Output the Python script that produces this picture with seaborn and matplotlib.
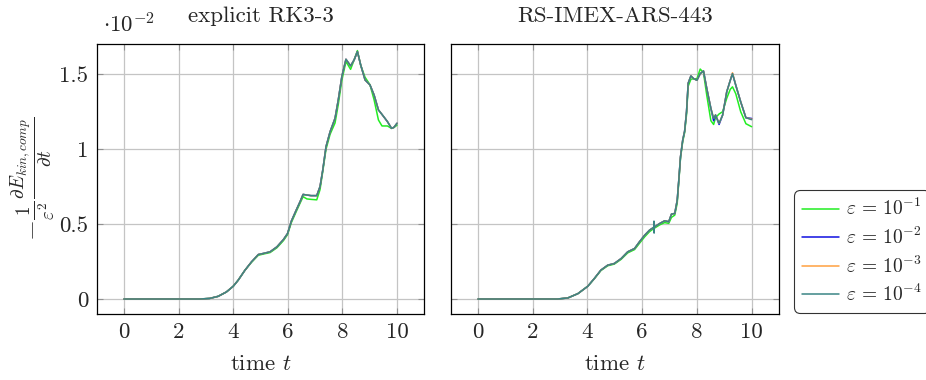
import matplotlib
matplotlib.use("Agg")
import matplotlib.pyplot as plt
import seaborn as sns
import pandas as pd
from matplotlib.lines import Line2D

# ---------------- data (values in units of 1e-2) ----------------
eps_labels = [r"$\varepsilon \,=\, 10^{-1}$", r"$\varepsilon \,=\, 10^{-2}$",
              r"$\varepsilon \,=\, 10^{-3}$", r"$\varepsilon \,=\, 10^{-4}$"]
colors = ["#22ee22", "#1010e0", "#ffa040", "#3a8585"]

titles = ["explicit RK3-3", "RS-IMEX-ARS-443"]
x_ticks = [0, 2, 4, 6, 8, 10]
y_ticks = [0, 0.5, 1, 1.5]
y_tick_labels = ["0", "0.5", "1", "1.5"]

# explicit RK3-3
t_rk = [0, 1, 2, 2.77, 3.14, 3.45, 3.75, 4.0, 4.18, 4.43, 4.67, 4.92, 5.10, 5.35,
        5.60, 5.84, 5.99, 6.13, 6.30, 6.45, 6.56, 6.70, 6.85, 7.06, 7.18, 7.28,
        7.40, 7.55, 7.73, 7.85, 7.98, 8.13, 8.30, 8.43, 8.55, 8.67, 8.83, 9.01,
        9.16, 9.32, 9.45, 9.65, 9.80, 9.89, 10.0]
rk_e1 = [0, 0, 0, 0, 0.004, 0.018, 0.047, 0.085, 0.125, 0.192, 0.245, 0.292, 0.300,
         0.310, 0.342, 0.390, 0.430, 0.510, 0.580, 0.640, 0.683, 0.668, 0.665, 0.662,
         0.730, 0.850, 1.000, 1.100, 1.175, 1.300, 1.460, 1.585, 1.533, 1.596, 1.658,
         1.560, 1.480, 1.430, 1.330, 1.195, 1.155, 1.155, 1.139, 1.145, 1.160]
rk_e2 = [0, 0, 0, 0, 0.004, 0.018, 0.047, 0.085, 0.125, 0.192, 0.248, 0.297, 0.304,
         0.315, 0.348, 0.397, 0.437, 0.520, 0.590, 0.650, 0.698, 0.694, 0.690, 0.690,
         0.750, 0.860, 1.017, 1.117, 1.206, 1.330, 1.485, 1.600, 1.556, 1.596, 1.651,
         1.562, 1.462, 1.429, 1.362, 1.262, 1.232, 1.184, 1.139, 1.146, 1.173]
rk_e3 = [0, 0, 0, 0, 0.004, 0.018, 0.047, 0.085, 0.125, 0.192, 0.248, 0.297, 0.304,
         0.315, 0.348, 0.397, 0.437, 0.520, 0.590, 0.650, 0.698, 0.694, 0.690, 0.690,
         0.750, 0.860, 1.017, 1.117, 1.206, 1.330, 1.485, 1.600, 1.556, 1.596, 1.651,
         1.562, 1.462, 1.429, 1.362, 1.262, 1.232, 1.184, 1.139, 1.146, 1.173]
rk_e4 = [0, 0, 0, 0, 0.004, 0.018, 0.047, 0.085, 0.125, 0.192, 0.248, 0.297, 0.304,
         0.315, 0.348, 0.397, 0.437, 0.520, 0.590, 0.650, 0.698, 0.694, 0.690, 0.690,
         0.750, 0.860, 1.017, 1.117, 1.206, 1.330, 1.485, 1.600, 1.556, 1.596, 1.651,
         1.562, 1.462, 1.429, 1.362, 1.262, 1.232, 1.184, 1.139, 1.146, 1.173]

# RS-IMEX-ARS-443
t_im = [0, 1, 2, 2.9, 3.28, 3.65, 4.01, 4.25, 4.49, 4.74, 4.98, 5.23, 5.47, 5.72,
        5.90, 6.09, 6.27, 6.42, 6.43, 6.435, 6.44, 6.64, 6.82, 6.97, 7.07, 7.19,
        7.28, 7.34, 7.40, 7.48, 7.55, 7.62, 7.68, 7.78, 7.88, 8.0, 8.12, 8.24, 8.36,
        8.51, 8.61, 8.68, 8.81, 8.94, 9.09, 9.22, 9.30, 9.42, 9.60, 9.79, 10.0]
im_e1 = [0, 0, 0, 0, 0.007, 0.036, 0.085, 0.135, 0.190, 0.222, 0.233, 0.265, 0.308,
         0.330, 0.372, 0.415, 0.450, 0.470, 0.471, 0.471, 0.472, 0.495, 0.510, 0.505,
         0.545, 0.560, 0.640, 0.790, 0.940, 1.050, 1.110, 1.230, 1.420, 1.467, 1.470,
         1.470, 1.535, 1.510, 1.360, 1.190, 1.165, 1.210, 1.235, 1.250, 1.340, 1.400,
         1.416, 1.370, 1.250, 1.170, 1.150]
im_e2 = [0, 0, 0, 0, 0.007, 0.036, 0.085, 0.137, 0.193, 0.226, 0.237, 0.270, 0.315,
         0.337, 0.382, 0.426, 0.460, 0.478, 0.479, 0.479, 0.480, 0.504, 0.522, 0.516,
         0.567, 0.571, 0.660, 0.800, 0.950, 1.060, 1.120, 1.250, 1.440, 1.489, 1.471,
         1.460, 1.504, 1.522, 1.405, 1.272, 1.190, 1.228, 1.165, 1.228, 1.383, 1.460,
         1.504, 1.427, 1.316, 1.210, 1.205]
im_e3 = [0, 0, 0, 0, 0.007, 0.036, 0.085, 0.137, 0.193, 0.226, 0.237, 0.270, 0.315,
         0.337, 0.382, 0.426, 0.460, 0.478, 0.479, 0.479, 0.480, 0.504, 0.522, 0.516,
         0.567, 0.571, 0.660, 0.800, 0.950, 1.060, 1.120, 1.250, 1.440, 1.489, 1.471,
         1.460, 1.504, 1.522, 1.405, 1.272, 1.206, 1.228, 1.173, 1.228, 1.383, 1.460,
         1.510, 1.427, 1.316, 1.210, 1.200]
im_e4 = [0, 0, 0, 0, 0.007, 0.036, 0.085, 0.137, 0.193, 0.226, 0.237, 0.270, 0.315,
         0.337, 0.382, 0.426, 0.460, 0.478, 0.520, 0.440, 0.480, 0.504, 0.522, 0.516,
         0.567, 0.571, 0.660, 0.800, 0.950, 1.060, 1.120, 1.250, 1.440, 1.489, 1.471,
         1.460, 1.504, 1.522, 1.405, 1.272, 1.206, 1.228, 1.173, 1.228, 1.383, 1.460,
         1.504, 1.427, 1.316, 1.210, 1.197]


def long_frame(t, series):
    rows = []
    for lab, vals in zip(eps_labels, series):
        for tt, v in zip(t, vals):
            rows.append({"t": tt, "value": v, "eps": lab})
    return pd.DataFrame(rows)


df_rk = long_frame(t_rk, [rk_e1, rk_e2, rk_e3, rk_e4])
df_im = long_frame(t_im, [im_e1, im_e2, im_e3, im_e4])

# ---------------- style ----------------
sns.set_theme(style="white")
plt.rcParams["font.family"] = "serif"
plt.rcParams["font.serif"] = ["cmr10", "DejaVu Serif"]
plt.rcParams["mathtext.fontset"] = "cm"
plt.rcParams["axes.formatter.use_mathtext"] = True
plt.rcParams["axes.unicode_minus"] = False

FS = 16.5
fig = plt.figure(figsize=(9.26, 3.8), dpi=100)
W, H = 926, 380
ax1 = fig.add_axes([96.7 / W, (H - 314) / H, 327.6 / W, 269.7 / H])
ax2 = fig.add_axes([450.7 / W, (H - 314) / H, 328.3 / W, 269.7 / H])

palette = dict(zip(eps_labels, colors))
for ax, df, title in [(ax1, df_rk, titles[0]), (ax2, df_im, titles[1])]:
    sns.lineplot(data=df, x="t", y="value", hue="eps", hue_order=eps_labels,
                 palette=palette, estimator=None, sort=False, ax=ax,
                 legend=False, linewidth=1.1)
    ax.set_xlim(-1, 11)
    ax.set_ylim(-0.1, 1.7)
    ax.set_xticks(x_ticks)
    ax.set_xticklabels([str(v) for v in x_ticks], fontsize=FS)
    ax.set_yticks(y_ticks)
    ax.grid(True, color="#c4c4c4", linewidth=0.9)
    ax.set_axisbelow(True)
    ax.tick_params(direction="in", length=4, color="#909090", width=0.8,
                   top=True, right=True, bottom=True, left=True, pad=6)
    for s in ax.spines.values():
        s.set_color("black")
        s.set_linewidth(0.9)
    ax.set_title(title, fontsize=FS, pad=16)
    ax.set_xlabel(r"time $t$", fontsize=FS, labelpad=9)
    ax.set_ylabel("")

ax1.set_yticklabels(y_tick_labels, fontsize=FS)
ax2.set_yticklabels([])
ax1.set_ylabel(r"$-\frac{1}{\varepsilon^2}\frac{\partial E_{kin,comp}}{\partial t}$",
               fontsize=FS + 3, labelpad=2)
ax1.text(0.02, 1.03, r"$\cdot 10^{-2}$", transform=ax1.transAxes,
         fontsize=FS, ha="left", va="bottom")

handles = [Line2D([0], [0], color=c, lw=1.1) for c in colors]
leg = fig.legend(handles, eps_labels, loc="lower left",
                 bbox_to_anchor=(794 / W, (H - 313) / H), fontsize=14,
                 frameon=True, fancybox=True, handlelength=1.9,
                 handletextpad=0.35, labelspacing=0.38, borderpad=0.4,
                 borderaxespad=0)
leg.get_frame().set_edgecolor("black")
leg.get_frame().set_linewidth(0.8)
leg.get_frame().set_boxstyle("round,pad=0,rounding_size=0.3")

fig.savefig("out.png", dpi=100)
